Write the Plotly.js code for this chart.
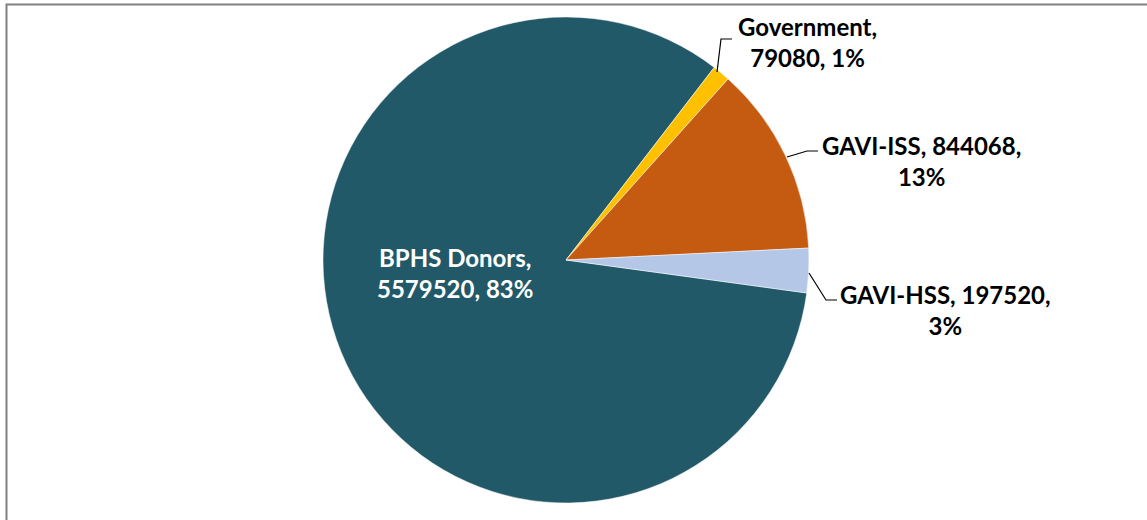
<!DOCTYPE html>
<html>
<head>
<meta charset="utf-8">
<script src="https://cdn.plot.ly/plotly-3.0.1.min.js"></script>
<style>html,body{margin:0;padding:0;background:#fff;}#chart{width:1147px;height:520px;}</style>
</head>
<body>
<div id="chart"></div>
<script>
// Data
const categories = ["BPHS Donors", "Government", "GAVI-ISS", "GAVI-HSS"];
const values = [5579520, 79080, 844068, 197520];
const colors = ["#215968", "#FFC000", "#C55A11", "#B4C7E7"];

// Label layout (style only): number of comma parts on first line, label centres in px, text colours
const firstLineParts = [1, 1, 2, 2];
const labelPos = [[455, 273], [807, 42], [921, 161], [945, 310]];
const labelColors = ["#ffffff", "#000000", "#000000", "#000000"];
// leader lines in px
const leaders = [null,
  [[732, 39], [721, 39], [717, 72]],
  [[818, 151], [807, 151], [787, 157]],
  [[837, 300], [826, 300], [809, 273]]];

const W = 1147, H = 520;
const px = x => x / W, py = y => 1 - y / H;
const total = values.reduce((a, b) => a + b, 0);

const annotations = categories.map((c, i) => {
  const pct = Math.round(values[i] / total * 100) + "%";
  const parts = [c, String(values[i]), pct];
  const text = parts.slice(0, firstLineParts[i]).join(", ") + ",<br>" + parts.slice(firstLineParts[i]).join(", ");
  return {
    xref: "paper", yref: "paper", x: px(labelPos[i][0]), y: py(labelPos[i][1]),
    xanchor: "center", yanchor: "middle", showarrow: false, text: text, align: "center",
    font: {family: "Lato, 'Open Sans', sans-serif", size: 24, color: labelColors[i], weight: "bold"}
  };
});

const shapes = [{
  type: "rect", xref: "paper", yref: "paper",
  x0: px(6.5), x1: px(1160), y0: py(4.5), y1: py(540),
  line: {color: "#808080", width: 2}, fillcolor: "rgba(0,0,0,0)"
}];
leaders.forEach(l => {
  if (!l) return;
  const path = l.map((p, k) => (k ? "L" : "M") + px(p[0]) + "," + py(p[1])).join(" ");
  shapes.push({type: "path", xref: "paper", yref: "paper", path: path, line: {color: "#000000", width: 1.2}});
});

const cx = 566, cy = 260, r = 243;
const trace = {
  type: "pie", labels: categories, values: values, sort: false,
  direction: "clockwise", rotation: 97.8,
  marker: {colors: colors, line: {color: "#ffffff", width: 0.5}},
  textinfo: "none", hoverinfo: "label+value+percent",
  domain: {x: [px(cx - r), px(cx + r)], y: [py(cy + r), py(cy - r)]},
  showlegend: false
};

Plotly.newPlot("chart", [trace], {
  width: W, height: H, margin: {l: 0, r: 0, t: 0, b: 0},
  paper_bgcolor: "#ffffff", showlegend: false,
  annotations: annotations, shapes: shapes
}, {displayModeBar: false, staticPlot: true});
</script>
</body>
</html>
